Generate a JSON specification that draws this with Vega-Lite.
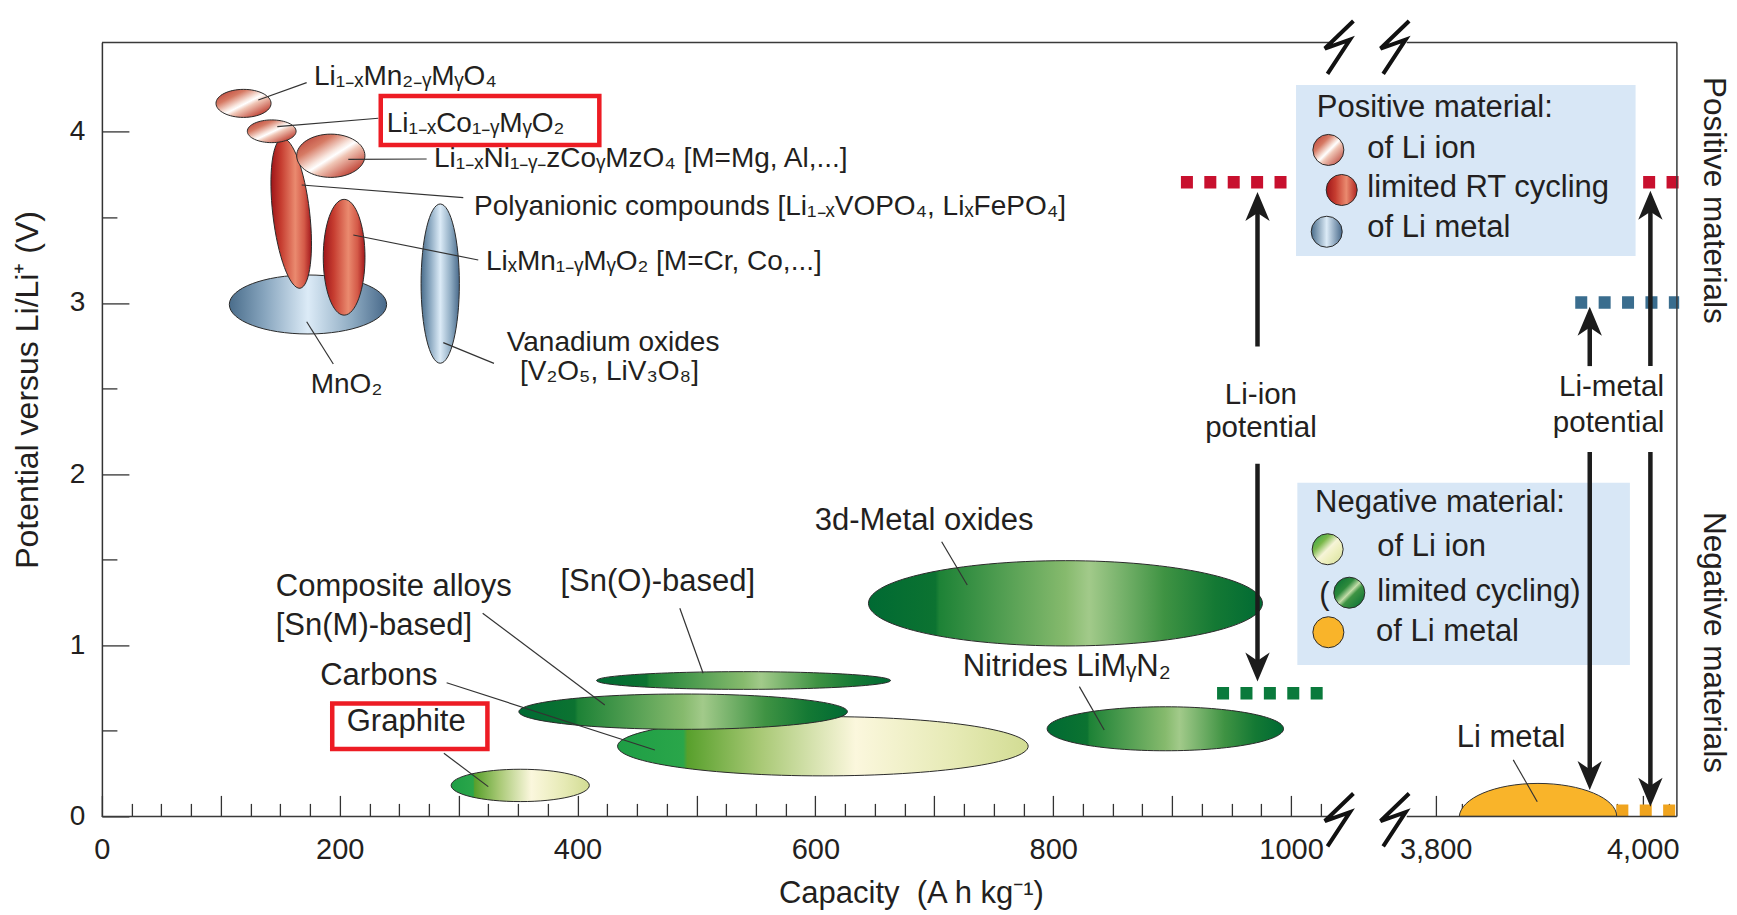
{
  "$schema": "https://vega.github.io/schema/vega-lite/v6.json",
  "width": 1575,
  "height": 774,
  "autosize": "none",
  "padding": {"left": 101.9, "top": 42.4, "right": 60.1, "bottom": 98.6},
  "background": "white",
  "config": {
    "view": {"stroke": null},
    "font": "Liberation Sans",
    "text": {"font": "Liberation Sans", "color": "#231f20"}
  },
  "datasets": {
    "ellipses": [
      {"material": "Li1-xMn2-yMyO4", "group": "posIon", "cap": 119.1, "volt": 4.166, "width": 46.3},
      {"material": "Li1-xCo1-yMyO2", "group": "posIon", "cap": 142.8, "volt": 4.003, "width": 41.0},
      {"material": "Li1-xNi1-y-zCoyMzO4", "group": "posIon", "cap": 192.5, "volt": 3.86, "width": 57.4},
      {"material": "Polyanionic compounds", "group": "posRT", "cap": 159.2, "volt": 3.524, "width": 31.4},
      {"material": "LixMn1-yMyO2", "group": "posRT", "cap": 203.7, "volt": 3.267, "width": 35.1},
      {"material": "MnO2", "group": "posMetal", "cap": 173.3, "volt": 2.991, "width": 132.3},
      {"material": "Vanadium oxides", "group": "posMetal", "cap": 284.5, "volt": 3.113, "width": 32.2},
      {"material": "Graphite", "group": "negIon", "cap": 351.8, "volt": 0.181, "width": 116.2},
      {"material": "Carbons", "group": "negIon", "cap": 606.3, "volt": 0.41, "width": 345.3},
      {"material": "Composite alloys", "group": "negLimited", "cap": 488.8, "volt": 0.612, "width": 276.3},
      {"material": "Sn(O)-based", "group": "negLimited", "cap": 539.6, "volt": 0.794, "width": 247.2},
      {"material": "3d-Metal oxides", "group": "negLimited", "cap": 810.3, "volt": 1.245, "width": 331.3},
      {"material": "Nitrides", "group": "negLimited", "cap": 894.3, "volt": 0.512, "width": 198.8}
    ],
    "lithium": [
      {"material": "Li metal", "cap": 3898.8, "volt": 0, "width": 152}
    ],
    "swatches": [
      {"group": "posIon", "cap": 1031.4, "volt": 3.894},
      {"group": "posRT", "cap": 1191.4, "volt": 3.66},
      {"group": "posMetal", "cap": 1030, "volt": 3.416},
      {"group": "negIon", "cap": 1030.8, "volt": 1.561},
      {"group": "negLimited", "cap": 1562.5, "volt": 1.307},
      {"group": "negMetal", "cap": 1031.4, "volt": 1.076}
    ],
    "panels": [
      {"panel": "positive", "cap": 1004.2, "cap2": 3993.1, "volt": 3.274, "volt2": 4.273},
      {"panel": "negative", "cap": 1005.3, "cap2": 3987.6, "volt": 0.885, "volt2": 1.95}
    ],
    "highlights": [
      {"label": "Li1-xCo1-yMyO2", "cap": 234.5, "cap2": 418.3, "volt": 3.923, "volt2": 4.209},
      {"label": "Graphite", "cap": 193.7, "cap2": 324.2, "volt": 0.394, "volt2": 0.66}
    ],
    "leaders": [
      {"label": "Li1-xMn2-yMyO4", "cap": 131.5, "volt": 4.186, "cap2": 172.2, "volt2": 4.287},
      {"label": "Li1-xCo1-yMyO2", "cap": 147.5, "volt": 4.03, "cap2": 232.4, "volt2": 4.079},
      {"label": "Li1-xNi1-y-zCoyMzO4", "cap": 207.2, "volt": 3.839, "cap2": 273.1, "volt2": 3.841},
      {"label": "Polyanionic compounds", "cap": 168, "volt": 3.689, "cap2": 303.9, "volt2": 3.615},
      {"label": "LixMn1-yMyO2", "cap": 211.4, "volt": 3.397, "cap2": 316.5, "volt2": 3.251},
      {"label": "MnO2", "cap": 172.2, "volt": 2.89, "cap2": 194.6, "volt2": 2.643},
      {"label": "Vanadium oxides", "cap": 287.1, "volt": 2.768, "cap2": 329.7, "volt2": 2.647},
      {"label": "Sn(O)-based", "cap": 486, "volt": 1.216, "cap2": 505.6, "volt2": 0.836},
      {"label": "Composite alloys", "cap": 320.2, "volt": 1.187, "cap2": 422.9, "volt2": 0.651},
      {"label": "Carbons", "cap": 289.9, "volt": 0.781, "cap2": 465, "volt2": 0.388},
      {"label": "Graphite", "cap": 287.6, "volt": 0.369, "cap2": 324.9, "volt2": 0.174},
      {"label": "Nitrides", "cap": 822, "volt": 0.758, "cap2": 842.9, "volt2": 0.505},
      {"label": "3d-Metal oxides", "cap": 706.2, "volt": 1.605, "cap2": 727.7, "volt2": 1.352},
      {"label": "Li metal", "cap": 3874.9, "volt": 0.33, "cap2": 3898.1, "volt2": 0.086}
    ],
    "levels": [
      {"kind": "positive Li-ion", "cap": 907.4, "cap2": 996.2, "volt": 3.705},
      {"kind": "positive Li-ion", "cap": 4000.4, "cap2": 4035.2, "volt": 3.705},
      {"kind": "positive Li-metal", "cap": 3934.8, "cap2": 4035.2, "volt": 3.002},
      {"kind": "negative Li-ion", "cap": 937.8, "cap2": 1026.6, "volt": 0.72},
      {"kind": "negative Li-metal", "cap": 3951.9, "cap2": 4035, "volt": 0.033}
    ],
    "shafts": [
      {"arrow": "Li-ion", "cap": 971.8, "volt": 2.746, "volt2": 3.56},
      {"arrow": "Li-ion", "cap": 971.8, "volt": 2.06, "volt2": 0.876},
      {"arrow": "Li-metal 3 V", "cap": 3948.8, "volt": 2.631, "volt2": 2.89},
      {"arrow": "Li-metal 3 V", "cap": 3948.8, "volt": 2.129, "volt2": 0.242},
      {"arrow": "Li-metal 3.7 V", "cap": 4007.4, "volt": 2.631, "volt2": 3.567},
      {"arrow": "Li-metal 3.7 V", "cap": 4007.4, "volt": 2.129, "volt2": 0.145}
    ],
    "heads": [
      {"arrow": "Li-ion", "dir": "up", "cap": 971.8, "volt": 3.648},
      {"arrow": "Li-ion", "dir": "down", "cap": 971.8, "volt": 0.788},
      {"arrow": "Li-metal 3 V", "dir": "up", "cap": 3948.8, "volt": 2.978},
      {"arrow": "Li-metal 3 V", "dir": "down", "cap": 3948.8, "volt": 0.154},
      {"arrow": "Li-metal 3.7 V", "dir": "up", "cap": 4007.4, "volt": 3.655},
      {"arrow": "Li-metal 3.7 V", "dir": "down", "cap": 4007.4, "volt": 0.057}
    ],
    "frame": [
      {"edge": "top left", "cap": 0, "cap2": 1032, "volt": 4.5223, "volt2": 4.5223},
      {"edge": "top right", "cap": 3772, "cap2": 4033, "volt": 4.5223, "volt2": 4.5223},
      {"edge": "bottom left", "cap": 0, "cap2": 1032, "volt": 0, "volt2": 0},
      {"edge": "bottom right", "cap": 3772, "cap2": 4033, "volt": 0, "volt2": 0},
      {"edge": "right", "cap": 4033, "cap2": 4033, "volt": 0, "volt2": 4.5223}
    ],
    "breaks": [
      {"cap": 1040, "volt": 4.4926},
      {"cap": 3760, "volt": 4.4926},
      {"cap": 1040, "volt": -0.021},
      {"cap": 3760, "volt": -0.021}
    ],
    "upperLabels": [
      {"label": "Li₁₋ₓMn₂₋ᵧMᵧO₄", "cap": 178.4, "volt": 4.322},
      {"label": "Li₁₋ₓCo₁₋ᵧMᵧO₂", "cap": 239.5, "volt": 4.046},
      {"label": "Li₁₋ₓNi₁₋ᵧ₋zCoᵧMzO₄ [M=Mg, Al,...]", "cap": 279.3, "volt": 3.839},
      {"label": "Polyanionic compounds [Li₁₋ₓVOPO₄, LiₓFePO₄]", "cap": 312.9, "volt": 3.559},
      {"label": "LiₓMn₁₋ᵧMᵧO₂  [M=Cr, Co,...]", "cap": 323, "volt": 3.241},
      {"label": "MnO₂", "cap": 175.6, "volt": 2.521},
      {"label": "Vanadium oxides", "cap": 340.4, "volt": 2.764},
      {"label": "[V₂O₅, LiV₃O₈]", "cap": 351.6, "volt": 2.598}
    ],
    "lowerLabels": [
      {"label": "Composite alloys", "cap": 146.2, "volt": 1.34},
      {"label": "[Sn(M)-based]", "cap": 146.2, "volt": 1.113},
      {"label": "Carbons", "cap": 183.6, "volt": 0.822},
      {"label": "Graphite", "cap": 205.9, "volt": 0.55},
      {"label": "[Sn(O)-based]", "cap": 385.6, "volt": 1.372},
      {"label": "3d-Metal oxides", "cap": 599.4, "volt": 1.728},
      {"label": "Nitrides LiMᵧN₂", "cap": 723.9, "volt": 0.874},
      {"label": "Li metal", "cap": 3820.3, "volt": 0.458}
    ],
    "legendText": [
      {"label": "Positive material:", "cap": 1021.6, "volt": 4.137},
      {"label": "of Li ion", "cap": 2441.4, "volt": 3.9},
      {"label": "limited RT cycling", "cap": 2441.4, "volt": 3.67},
      {"label": "of Li metal", "cap": 2441.4, "volt": 3.436},
      {"label": "Negative material:", "cap": 1020.2, "volt": 1.829},
      {"label": "of Li ion", "cap": 2929.7, "volt": 1.572},
      {"label": "(", "cap": 1023.8, "volt": 1.294},
      {"label": "limited cycling)", "cap": 2929.7, "volt": 1.313},
      {"label": "of Li metal", "cap": 2866.2, "volt": 1.076}
    ],
    "arrowText": [
      {"label": "Li-ion", "cap": 974.7, "volt": 2.464},
      {"label": "potential", "cap": 974.7, "volt": 2.27},
      {"label": "Li-metal", "cap": 3969.8, "volt": 2.506},
      {"label": "potential", "cap": 3967, "volt": 2.296}
    ],
    "sideText": [
      {"label": "Positive materials", "cap": 4067.4, "volt": 3.599},
      {"label": "Negative materials", "cap": 4067.4, "volt": 1.016}
    ]
  },
  "encoding": {
    "x": {
      "field": "cap",
      "type": "quantitative",
      "scale": {"domain": [0, 1040, 3760, 4033], "range": [0, 1236.7, 1292.4, 1575], "nice": false, "zero": false},
      "axis": {
        "values": [0, 25, 50, 75, 100, 125, 150, 175, 200, 225, 250, 275, 300, 325, 350, 375, 400, 425, 450, 475, 500, 525, 550, 575, 600, 625, 650, 675, 700, 725, 750, 775, 800, 825, 850, 875, 900, 925, 950, 975, 1000, 1025, 3800, 3825, 3850, 3875, 3900, 3925, 3950, 3975, 4000, 4025],
        "domain": false,
        "grid": false,
        "tickColor": "#333333",
        "tickWidth": 1.3,
        "tickSize": {"condition": {"test": "datum.value % 100 === 0", "value": -21}, "value": -13},
        "labelExpr": "datum.value % 200 === 0 ? (datum.value >= 3800 ? format(datum.value, ',') : '' + datum.value) : ''",
        "labelFont": "Liberation Sans",
        "labelFontSize": 29,
        "labelColor": "#231f20",
        "labelBaseline": "middle",
        "labelPadding": 54,
        "labelOverlap": false,
        "labelFlush": false,
        "labelBound": false,
        "title": "Capacity\u00a0 (A h kg⁻¹)",
        "titleFont": "Liberation Sans",
        "titleFontSize": 31,
        "titleFontWeight": "normal",
        "titleColor": "#231f20",
        "titleAlign": "center",
        "titleBaseline": "middle",
        "titleX": 809,
        "titleY": 77
      }
    },
    "y": {
      "field": "volt",
      "type": "quantitative",
      "scale": {"domain": [0, 4.5223], "nice": false, "zero": false},
      "axis": {
        "values": [0, 0.5, 1, 1.5, 2, 2.5, 3, 3.5, 4],
        "domain": true,
        "domainColor": "#333333",
        "domainWidth": 1.5,
        "grid": false,
        "tickColor": "#333333",
        "tickWidth": 1.3,
        "tickSize": {"condition": {"test": "datum.value % 1 === 0", "value": -27}, "value": -15},
        "labelExpr": "datum.value % 1 === 0 ? '' + datum.value : ''",
        "labelFont": "Liberation Sans",
        "labelFontSize": 28,
        "labelColor": "#231f20",
        "labelBaseline": "middle",
        "labelPadding": 44,
        "labelOverlap": false,
        "labelFlush": false,
        "labelBound": false,
        "title": "Potential versus Li/Li⁺ (V)",
        "titleFont": "Liberation Sans",
        "titleFontSize": 32,
        "titleFontWeight": "normal",
        "titleColor": "#231f20",
        "titleAlign": "center",
        "titleBaseline": "middle",
        "titleX": -74,
        "titleY": 347
      }
    }
  },
  "layer": [
    {
      "data": {"name": "panels"},
      "mark": {"type": "rect", "fill": "#d8e7f6"},
      "encoding": {"x2": {"field": "cap2"}, "y2": {"field": "volt2"}}
    },
    {
      "data": {"name": "ellipses"},
      "transform": [{"filter": "datum.group === 'posMetal'"}],
      "mark": {"type": "point", "filled": true, "opacity": 1, "stroke": "#2b2b2b", "strokeWidth": 1,
        "fill": {"gradient": "linear", "x1": 0, "y1": 0, "x2": 1, "y2": 0, "stops": [
          {"offset": 0, "color": "#4a6d8b"}, {"offset": 0.22, "color": "#86a4bd"}, {"offset": 0.5, "color": "#dcebf7"},
          {"offset": 0.78, "color": "#8eabc2"}, {"offset": 1, "color": "#48698a"}]}},
      "encoding": {
        "shape": {"field": "material", "type": "nominal", "legend": null, "scale": {
          "domain": ["Li1-xMn2-yMyO4", "Li1-xCo1-yMyO2", "Li1-xNi1-y-zCoyMzO4", "Polyanionic compounds", "LixMn1-yMyO2", "MnO2", "Vanadium oxides", "Graphite", "Carbons", "Composite alloys", "Sn(O)-based", "3d-Metal oxides", "Nitrides"],
          "range": ["M-1,0A1,0.509,0,0,1,1,0A1,0.509,0,0,1,-1,0Z", "M-1,0A1,0.466,0,0,1,1,0A1,0.466,0,0,1,-1,0Z", "M-1,0A1,0.634,0,0,1,1,0A1,0.634,0,0,1,-1,0Z", "M-0.472,-4.02A1,4.048,-6.7,0,1,0.472,4.02A1,4.048,-6.7,0,1,-0.472,-4.02Z", "M-1,0A1,2.775,0,0,1,1,0A1,2.775,0,0,1,-1,0Z", "M-1,0A1,0.375,0,0,1,1,0A1,0.375,0,0,1,-1,0Z", "M-1,0A1,4.159,0,0,1,1,0A1,4.159,0,0,1,-1,0Z", "M-1,0A1,0.234,0,0,1,1,0A1,0.234,0,0,1,-1,0Z", "M-1,0A1,0.1444,0,0,1,1,0A1,0.1444,0,0,1,-1,0Z", "M-1,0A1,0.1075,0,0,1,1,0A1,0.1075,0,0,1,-1,0Z", "M-1,0A1,0.0602,0,0,1,1,0A1,0.0602,0,0,1,-1,0Z", "M-1,0A1,0.2165,0,0,1,1,0A1,0.2165,0,0,1,-1,0Z", "M-1,0A1,0.186,0,0,1,1,0A1,0.186,0,0,1,-1,0Z"]}},
        "size": {"field": "width", "type": "quantitative", "legend": null, "scale": {"type": "pow", "exponent": 2, "domain": [0, 1000], "range": [0, 1413959]}}
      }
    },
    {
      "data": {"name": "ellipses"},
      "transform": [{"filter": "datum.group === 'posRT'"}],
      "mark": {"type": "point", "filled": true, "opacity": 1, "stroke": "#2b2b2b", "strokeWidth": 1,
        "fill": {"gradient": "linear", "x1": 0, "y1": 0, "x2": 1, "y2": 0, "stops": [
          {"offset": 0, "color": "#9e1519"}, {"offset": 0.25, "color": "#c63d30"}, {"offset": 0.6, "color": "#ea8a6f"},
          {"offset": 0.82, "color": "#d45a48"}, {"offset": 1, "color": "#a3171b"}]}},
      "encoding": {
        "shape": {"field": "material", "type": "nominal", "legend": null, "scale": {
          "domain": ["Li1-xMn2-yMyO4", "Li1-xCo1-yMyO2", "Li1-xNi1-y-zCoyMzO4", "Polyanionic compounds", "LixMn1-yMyO2", "MnO2", "Vanadium oxides", "Graphite", "Carbons", "Composite alloys", "Sn(O)-based", "3d-Metal oxides", "Nitrides"],
          "range": ["M-1,0A1,0.509,0,0,1,1,0A1,0.509,0,0,1,-1,0Z", "M-1,0A1,0.466,0,0,1,1,0A1,0.466,0,0,1,-1,0Z", "M-1,0A1,0.634,0,0,1,1,0A1,0.634,0,0,1,-1,0Z", "M-0.472,-4.02A1,4.048,-6.7,0,1,0.472,4.02A1,4.048,-6.7,0,1,-0.472,-4.02Z", "M-1,0A1,2.775,0,0,1,1,0A1,2.775,0,0,1,-1,0Z", "M-1,0A1,0.375,0,0,1,1,0A1,0.375,0,0,1,-1,0Z", "M-1,0A1,4.159,0,0,1,1,0A1,4.159,0,0,1,-1,0Z", "M-1,0A1,0.234,0,0,1,1,0A1,0.234,0,0,1,-1,0Z", "M-1,0A1,0.1444,0,0,1,1,0A1,0.1444,0,0,1,-1,0Z", "M-1,0A1,0.1075,0,0,1,1,0A1,0.1075,0,0,1,-1,0Z", "M-1,0A1,0.0602,0,0,1,1,0A1,0.0602,0,0,1,-1,0Z", "M-1,0A1,0.2165,0,0,1,1,0A1,0.2165,0,0,1,-1,0Z", "M-1,0A1,0.186,0,0,1,1,0A1,0.186,0,0,1,-1,0Z"]}},
        "size": {"field": "width", "type": "quantitative", "legend": null, "scale": {"type": "pow", "exponent": 2, "domain": [0, 1000], "range": [0, 1413959]}}
      }
    },
    {
      "data": {"name": "ellipses"},
      "transform": [{"filter": "datum.group === 'posIon'"}],
      "mark": {"type": "point", "filled": true, "opacity": 1, "stroke": "#2b2b2b", "strokeWidth": 1,
        "fill": {"gradient": "linear", "x1": 0, "y1": 0, "x2": 1, "y2": 1, "stops": [
          {"offset": 0, "color": "#b3302a"}, {"offset": 0.28, "color": "#d67a64"}, {"offset": 0.46, "color": "#f8e4dc"},
          {"offset": 0.52, "color": "#ffffff"}, {"offset": 0.6, "color": "#f0c6b6"}, {"offset": 0.82, "color": "#c8584a"},
          {"offset": 1, "color": "#a5221c"}]}},
      "encoding": {
        "shape": {"field": "material", "type": "nominal", "legend": null, "scale": {
          "domain": ["Li1-xMn2-yMyO4", "Li1-xCo1-yMyO2", "Li1-xNi1-y-zCoyMzO4", "Polyanionic compounds", "LixMn1-yMyO2", "MnO2", "Vanadium oxides", "Graphite", "Carbons", "Composite alloys", "Sn(O)-based", "3d-Metal oxides", "Nitrides"],
          "range": ["M-1,0A1,0.509,0,0,1,1,0A1,0.509,0,0,1,-1,0Z", "M-1,0A1,0.466,0,0,1,1,0A1,0.466,0,0,1,-1,0Z", "M-1,0A1,0.634,0,0,1,1,0A1,0.634,0,0,1,-1,0Z", "M-0.472,-4.02A1,4.048,-6.7,0,1,0.472,4.02A1,4.048,-6.7,0,1,-0.472,-4.02Z", "M-1,0A1,2.775,0,0,1,1,0A1,2.775,0,0,1,-1,0Z", "M-1,0A1,0.375,0,0,1,1,0A1,0.375,0,0,1,-1,0Z", "M-1,0A1,4.159,0,0,1,1,0A1,4.159,0,0,1,-1,0Z", "M-1,0A1,0.234,0,0,1,1,0A1,0.234,0,0,1,-1,0Z", "M-1,0A1,0.1444,0,0,1,1,0A1,0.1444,0,0,1,-1,0Z", "M-1,0A1,0.1075,0,0,1,1,0A1,0.1075,0,0,1,-1,0Z", "M-1,0A1,0.0602,0,0,1,1,0A1,0.0602,0,0,1,-1,0Z", "M-1,0A1,0.2165,0,0,1,1,0A1,0.2165,0,0,1,-1,0Z", "M-1,0A1,0.186,0,0,1,1,0A1,0.186,0,0,1,-1,0Z"]}},
        "size": {"field": "width", "type": "quantitative", "legend": null, "scale": {"type": "pow", "exponent": 2, "domain": [0, 1000], "range": [0, 1413959]}}
      }
    },
    {
      "data": {"name": "ellipses"},
      "transform": [{"filter": "datum.group === 'negIon'"}],
      "mark": {"type": "point", "filled": true, "opacity": 1, "stroke": "#2b2b2b", "strokeWidth": 1,
        "fill": {"gradient": "linear", "x1": 0, "y1": 0, "x2": 1, "y2": 0, "stops": [
          {"offset": 0, "color": "#1e9e45"}, {"offset": 0.16, "color": "#2aa64a"}, {"offset": 0.17, "color": "#58a02c"},
          {"offset": 0.35, "color": "#a9c976"}, {"offset": 0.58, "color": "#fbf7dd"}, {"offset": 0.82, "color": "#e6eab5"},
          {"offset": 1, "color": "#d2dc93"}]}},
      "encoding": {
        "shape": {"field": "material", "type": "nominal", "legend": null, "scale": {
          "domain": ["Li1-xMn2-yMyO4", "Li1-xCo1-yMyO2", "Li1-xNi1-y-zCoyMzO4", "Polyanionic compounds", "LixMn1-yMyO2", "MnO2", "Vanadium oxides", "Graphite", "Carbons", "Composite alloys", "Sn(O)-based", "3d-Metal oxides", "Nitrides"],
          "range": ["M-1,0A1,0.509,0,0,1,1,0A1,0.509,0,0,1,-1,0Z", "M-1,0A1,0.466,0,0,1,1,0A1,0.466,0,0,1,-1,0Z", "M-1,0A1,0.634,0,0,1,1,0A1,0.634,0,0,1,-1,0Z", "M-0.472,-4.02A1,4.048,-6.7,0,1,0.472,4.02A1,4.048,-6.7,0,1,-0.472,-4.02Z", "M-1,0A1,2.775,0,0,1,1,0A1,2.775,0,0,1,-1,0Z", "M-1,0A1,0.375,0,0,1,1,0A1,0.375,0,0,1,-1,0Z", "M-1,0A1,4.159,0,0,1,1,0A1,4.159,0,0,1,-1,0Z", "M-1,0A1,0.234,0,0,1,1,0A1,0.234,0,0,1,-1,0Z", "M-1,0A1,0.1444,0,0,1,1,0A1,0.1444,0,0,1,-1,0Z", "M-1,0A1,0.1075,0,0,1,1,0A1,0.1075,0,0,1,-1,0Z", "M-1,0A1,0.0602,0,0,1,1,0A1,0.0602,0,0,1,-1,0Z", "M-1,0A1,0.2165,0,0,1,1,0A1,0.2165,0,0,1,-1,0Z", "M-1,0A1,0.186,0,0,1,1,0A1,0.186,0,0,1,-1,0Z"]}},
        "size": {"field": "width", "type": "quantitative", "legend": null, "scale": {"type": "pow", "exponent": 2, "domain": [0, 1000], "range": [0, 1413959]}}
      }
    },
    {
      "data": {"name": "ellipses"},
      "transform": [{"filter": "datum.group === 'negLimited'"}],
      "mark": {"type": "point", "filled": true, "opacity": 1, "stroke": "#2b2b2b", "strokeWidth": 1,
        "fill": {"gradient": "linear", "x1": 0, "y1": 0, "x2": 1, "y2": 0, "stops": [
          {"offset": 0, "color": "#006a33"}, {"offset": 0.17, "color": "#0c7331"}, {"offset": 0.18, "color": "#1d8236"},
          {"offset": 0.5, "color": "#86ba6d"}, {"offset": 0.56, "color": "#a2ca8a"}, {"offset": 0.75, "color": "#3f9343"},
          {"offset": 0.88, "color": "#147934"}, {"offset": 1, "color": "#006a33"}]}},
      "encoding": {
        "shape": {"field": "material", "type": "nominal", "legend": null, "scale": {
          "domain": ["Li1-xMn2-yMyO4", "Li1-xCo1-yMyO2", "Li1-xNi1-y-zCoyMzO4", "Polyanionic compounds", "LixMn1-yMyO2", "MnO2", "Vanadium oxides", "Graphite", "Carbons", "Composite alloys", "Sn(O)-based", "3d-Metal oxides", "Nitrides"],
          "range": ["M-1,0A1,0.509,0,0,1,1,0A1,0.509,0,0,1,-1,0Z", "M-1,0A1,0.466,0,0,1,1,0A1,0.466,0,0,1,-1,0Z", "M-1,0A1,0.634,0,0,1,1,0A1,0.634,0,0,1,-1,0Z", "M-0.472,-4.02A1,4.048,-6.7,0,1,0.472,4.02A1,4.048,-6.7,0,1,-0.472,-4.02Z", "M-1,0A1,2.775,0,0,1,1,0A1,2.775,0,0,1,-1,0Z", "M-1,0A1,0.375,0,0,1,1,0A1,0.375,0,0,1,-1,0Z", "M-1,0A1,4.159,0,0,1,1,0A1,4.159,0,0,1,-1,0Z", "M-1,0A1,0.234,0,0,1,1,0A1,0.234,0,0,1,-1,0Z", "M-1,0A1,0.1444,0,0,1,1,0A1,0.1444,0,0,1,-1,0Z", "M-1,0A1,0.1075,0,0,1,1,0A1,0.1075,0,0,1,-1,0Z", "M-1,0A1,0.0602,0,0,1,1,0A1,0.0602,0,0,1,-1,0Z", "M-1,0A1,0.2165,0,0,1,1,0A1,0.2165,0,0,1,-1,0Z", "M-1,0A1,0.186,0,0,1,1,0A1,0.186,0,0,1,-1,0Z"]}},
        "size": {"field": "width", "type": "quantitative", "legend": null, "scale": {"type": "pow", "exponent": 2, "domain": [0, 1000], "range": [0, 1413959]}}
      }
    },
    {
      "data": {"name": "levels"},
      "mark": {"type": "rule", "strokeWidth": 12.5, "strokeDash": [12, 11.4], "strokeCap": "butt"},
      "encoding": {
        "x2": {"field": "cap2"},
        "color": {"field": "kind", "type": "nominal", "legend": null, "scale": {
          "domain": ["positive Li-ion", "positive Li-metal", "negative Li-ion", "negative Li-metal"],
          "range": ["#c8102e", "#3a6d8e", "#0a7a3c", "#f0a41e"]}}
      }
    },
    {
      "data": {"name": "lithium"},
      "mark": {"type": "point", "filled": true, "opacity": 1, "fill": "#f9b42a", "stroke": "#333333", "strokeWidth": 1,
        "shape": "M-1,0C-0.98,-0.23,-0.55,-0.419,0,-0.419C0.55,-0.419,1,-0.23,1,0Z"},
      "encoding": {
        "size": {"field": "width", "type": "quantitative", "legend": null, "scale": {"type": "pow", "exponent": 2, "domain": [0, 1000], "range": [0, 1072882]}}
      }
    },
    {
      "data": {"name": "leaders"},
      "mark": {"type": "rule", "stroke": "#333333", "strokeWidth": 1.2},
      "encoding": {"x2": {"field": "cap2"}, "y2": {"field": "volt2"}}
    },
    {
      "data": {"name": "shafts"},
      "mark": {"type": "rule", "stroke": "#1c1c1c", "strokeWidth": 4.5},
      "encoding": {"y2": {"field": "volt2"}}
    },
    {
      "data": {"name": "heads"},
      "transform": [{"filter": "datum.dir === 'up'"}],
      "mark": {"type": "point", "filled": true, "opacity": 1, "fill": "#1c1c1c", "strokeWidth": 0, "size": 3364,
        "shape": "M0,0L0.42,1L0,0.72L-0.42,1Z"}
    },
    {
      "data": {"name": "heads"},
      "transform": [{"filter": "datum.dir === 'down'"}],
      "mark": {"type": "point", "filled": true, "opacity": 1, "fill": "#1c1c1c", "strokeWidth": 0, "size": 3364,
        "shape": "M0,0L0.42,-1L0,-0.72L-0.42,-1Z"}
    },
    {
      "data": {"name": "frame"},
      "mark": {"type": "rule", "stroke": "#3a3a3a", "strokeWidth": 1.5},
      "encoding": {"x2": {"field": "cap2"}, "y2": {"field": "volt2"}}
    },
    {
      "data": {"name": "breaks"},
      "mark": {"type": "point", "filled": false, "opacity": 1, "stroke": "#111111", "strokeWidth": 4, "size": 2800,
        "strokeJoin": "miter", "shape": "M0.56,-1L-0.52,0.04L0.43,-0.3L-0.42,1"}
    },
    {
      "data": {"name": "swatches"},
      "transform": [{"filter": "datum.group === 'posIon'"}],
      "mark": {"type": "point", "shape": "circle", "size": 962, "filled": true, "opacity": 1, "stroke": "#2b2b2b", "strokeWidth": 1,
        "fill": {"gradient": "linear", "x1": 0, "y1": 0, "x2": 1, "y2": 1, "stops": [
          {"offset": 0, "color": "#b3302a"}, {"offset": 0.3, "color": "#d67a64"}, {"offset": 0.47, "color": "#f8e4dc"},
          {"offset": 0.52, "color": "#ffffff"}, {"offset": 0.6, "color": "#f0c6b6"}, {"offset": 1, "color": "#b02a20"}]}}
    },
    {
      "data": {"name": "swatches"},
      "transform": [{"filter": "datum.group === 'posRT'"}],
      "mark": {"type": "point", "shape": "circle", "size": 962, "filled": true, "opacity": 1, "stroke": "#2b2b2b", "strokeWidth": 1,
        "fill": {"gradient": "linear", "x1": 0, "y1": 0, "x2": 1, "y2": 0, "stops": [
          {"offset": 0, "color": "#9e1519"}, {"offset": 0.3, "color": "#c63d30"}, {"offset": 0.65, "color": "#ea8a6f"},
          {"offset": 1, "color": "#b0231f"}]}}
    },
    {
      "data": {"name": "swatches"},
      "transform": [{"filter": "datum.group === 'posMetal'"}],
      "mark": {"type": "point", "shape": "circle", "size": 962, "filled": true, "opacity": 1, "stroke": "#2b2b2b", "strokeWidth": 1,
        "fill": {"gradient": "linear", "x1": 0, "y1": 0, "x2": 1, "y2": 0, "stops": [
          {"offset": 0, "color": "#4a6d8b"}, {"offset": 0.5, "color": "#dcebf7"}, {"offset": 1, "color": "#48698a"}]}}
    },
    {
      "data": {"name": "swatches"},
      "transform": [{"filter": "datum.group === 'negIon'"}],
      "mark": {"type": "point", "shape": "circle", "size": 962, "filled": true, "opacity": 1, "stroke": "#2b2b2b", "strokeWidth": 1,
        "fill": {"gradient": "linear", "x1": 0, "y1": 0, "x2": 1, "y2": 1, "stops": [
          {"offset": 0, "color": "#1e9e45"}, {"offset": 0.3, "color": "#7ab84a"}, {"offset": 0.5, "color": "#f6f4d8"},
          {"offset": 0.65, "color": "#eef0c0"}, {"offset": 1, "color": "#d5df98"}]}}
    },
    {
      "data": {"name": "swatches"},
      "transform": [{"filter": "datum.group === 'negLimited'"}],
      "mark": {"type": "point", "shape": "circle", "size": 962, "filled": true, "opacity": 1, "stroke": "#2b2b2b", "strokeWidth": 1,
        "fill": {"gradient": "linear", "x1": 0, "y1": 0, "x2": 1, "y2": 1, "stops": [
          {"offset": 0, "color": "#006a33"}, {"offset": 0.35, "color": "#2d8a3c"}, {"offset": 0.5, "color": "#c2dca8"},
          {"offset": 0.6, "color": "#3d9343"}, {"offset": 1, "color": "#006a33"}]}}
    },
    {
      "data": {"name": "swatches"},
      "transform": [{"filter": "datum.group === 'negMetal'"}],
      "mark": {"type": "point", "shape": "circle", "size": 962, "filled": true, "opacity": 1, "stroke": "#2b2b2b", "strokeWidth": 1,
        "fill": "#f9b42a"}
    },
    {
      "data": {"name": "upperLabels"},
      "mark": {"type": "text", "align": "left", "baseline": "middle", "font": "Liberation Sans", "fontSize": 28, "fill": "#231f20"},
      "encoding": {"text": {"field": "label", "type": "nominal"}}
    },
    {
      "data": {"name": "lowerLabels"},
      "mark": {"type": "text", "align": "left", "baseline": "middle", "font": "Liberation Sans", "fontSize": 31, "fill": "#231f20"},
      "encoding": {"text": {"field": "label", "type": "nominal"}}
    },
    {
      "data": {"name": "legendText"},
      "mark": {"type": "text", "align": "left", "baseline": "middle", "font": "Liberation Sans", "fontSize": 31, "fill": "#231f20"},
      "encoding": {"text": {"field": "label", "type": "nominal"}}
    },
    {
      "data": {"name": "arrowText"},
      "mark": {"type": "text", "align": "center", "baseline": "middle", "font": "Liberation Sans", "fontSize": 29.5, "fill": "#231f20"},
      "encoding": {"text": {"field": "label", "type": "nominal"}}
    },
    {
      "data": {"name": "sideText"},
      "mark": {"type": "text", "align": "center", "baseline": "middle", "angle": 90, "font": "Liberation Sans", "fontSize": 31.5, "fill": "#231f20"},
      "encoding": {"text": {"field": "label", "type": "nominal"}}
    },
    {
      "data": {"name": "highlights"},
      "mark": {"type": "rect", "filled": false, "stroke": "#ed1c24", "strokeWidth": 4.5},
      "encoding": {"x2": {"field": "cap2"}, "y2": {"field": "volt2"}}
    }
  ],
  "resolve": {"scale": {"size": "independent"}}
}
